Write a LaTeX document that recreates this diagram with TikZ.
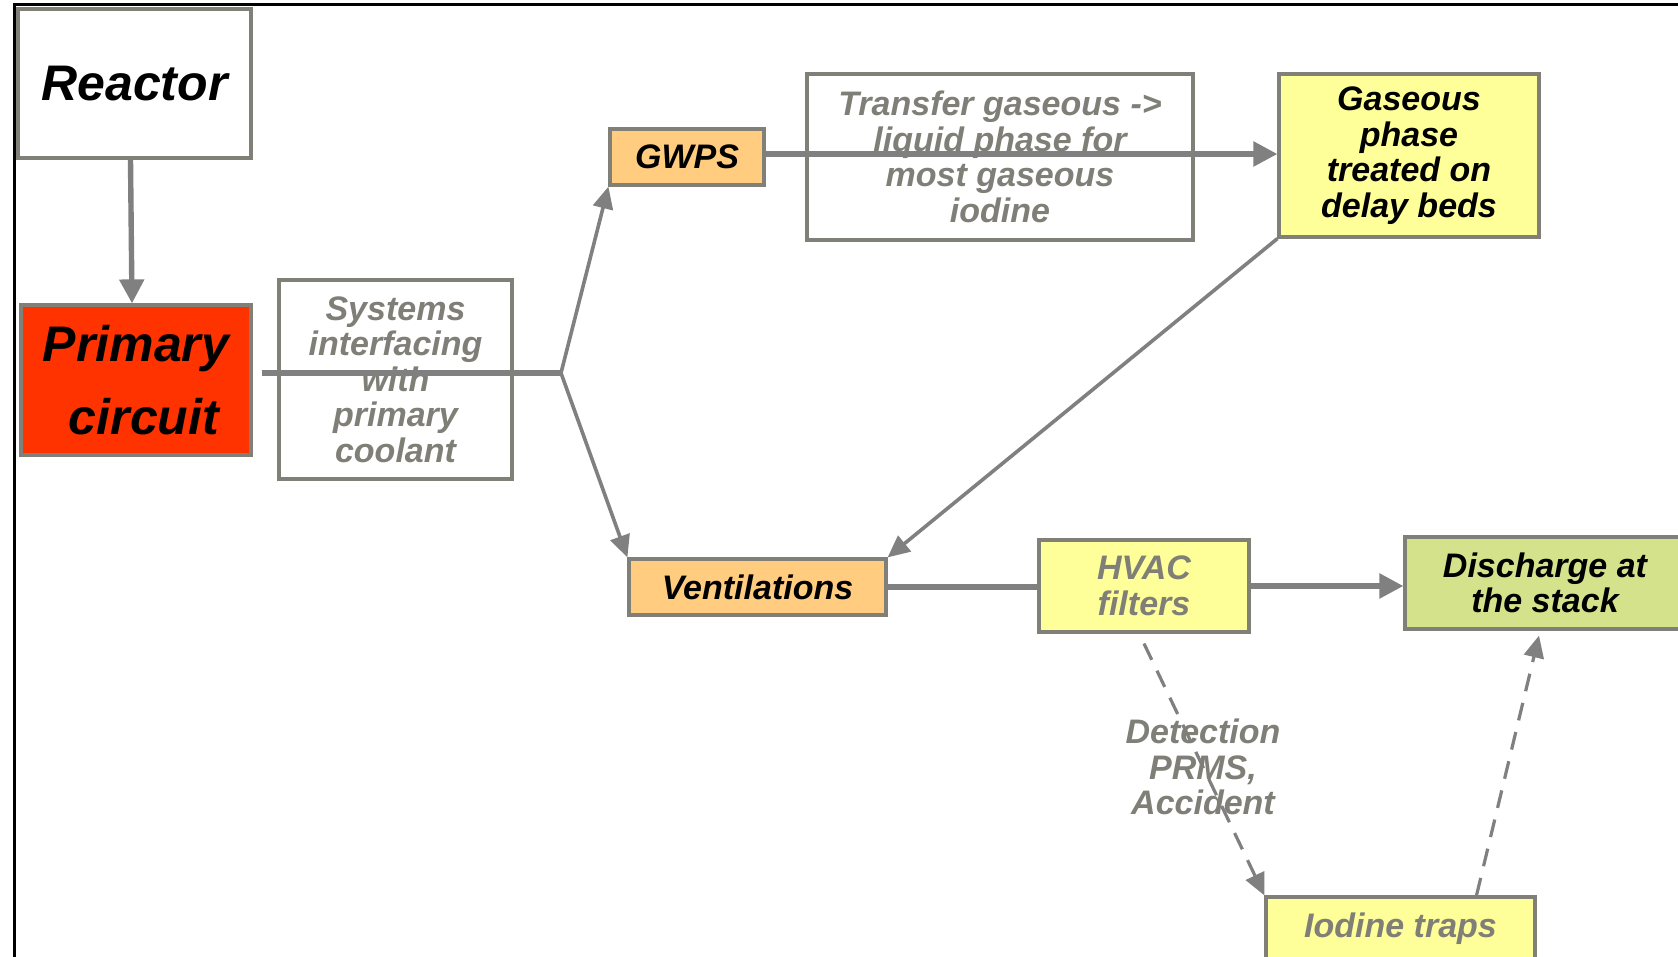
\documentclass[tikz,border=0pt]{standalone}
\usepackage{fontspec}
\setmainfont{Liberation Sans}
\usetikzlibrary{arrows.meta}
\definecolor{lgray}{HTML}{808080}
\definecolor{bgray}{HTML}{808078}
\definecolor{tgray}{HTML}{7F7F78}
\definecolor{pred}{HTML}{FF3300}
\definecolor{porange}{HTML}{FFCC80}
\definecolor{pyellow}{HTML}{FFFF99}
\definecolor{pgreen}{HTML}{D4E28C}
\begin{document}
\begin{tikzpicture}[x=0.5pt,y=-0.5pt,
  bx/.style={draw=bgray, line width=1.6pt, inner sep=0pt, align=center},
  smallfont/.style={font=\fontsize{17}{17.75}\selectfont\bfseries\itshape},
  bigfont/.style={font=\fontsize{25}{36.5}\selectfont\bfseries\itshape},
  blk/.style={text=black},
  gtxt/.style={text=tgray},
  arr/.style={draw=lgray, line width=2.7pt, -{Triangle[length=12pt,width=12pt]}},
  arrthin/.style={draw=lgray, line width=1.8pt, -{Triangle[length=11pt,width=10pt]}},
  ln/.style={draw=lgray, line width=2.7pt},
  dsh/.style={draw=lgray, line width=1.6pt, dash pattern=on 9pt off 6pt, -{Triangle[length=11pt,width=10pt]}}
]
\useasboundingbox (0,0) rectangle (1678,957);
\clip (0,0) rectangle (1678,957);
\fill[white] (0,0) rectangle (1678,957);
% frame
\draw[black, line width=1.5pt] (14,970) -- (14,5) -- (1690,5);

% nodes
\node[bx, fill=white, bigfont, blk, minimum width=116.5pt, minimum height=74.5pt] (reactor) at (134.5,83.5) {Reactor};
\node[bx, fill=pred, bigfont, blk, minimum width=115pt, minimum height=75pt] (primary) at (136,380) {Primary\\\hspace*{8pt}circuit};
\node[bx, fill=white, smallfont, gtxt, minimum width=116.5pt, minimum height=99.5pt] (systems) at (395.5,379.5) {Systems\\interfacing\\with\\primary\\coolant};
\node[bx, fill=porange, smallfont, blk, minimum width=77pt, minimum height=28pt] (gwps) at (687,157) {GWPS};
\node[bx, fill=white, smallfont, gtxt, minimum width=193pt, minimum height=83pt] (transfer) at (1000,157) {Transfer gaseous ->\\liquid phase for\\most gaseous\\iodine};
\node[bx, fill=pyellow, smallfont, blk, minimum width=130pt, minimum height=81.5pt] (gas) at (1409,155.5) {Gaseous\\phase\\treated on\\delay beds};
\node[bx, fill=porange, smallfont, blk, minimum width=128.5pt, minimum height=28pt] (vent) at (757.5,587) {Ventilations};
\node[bx, fill=pyellow, smallfont, gtxt, minimum width=105pt, minimum height=46pt] (hvac) at (1144,586) {HVAC\\filters};
\node[bx, fill=pgreen, smallfont, blk, minimum width=140pt, minimum height=46pt] (disch) at (1545,583) {Discharge at\\the stack};
\node[bx, fill=pyellow, smallfont, gtxt, minimum width=134.5pt, minimum height=31.5pt] (iodine) at (1400.5,928.5) {Iodine traps};

\coordinate (junction) at (561,373);

% connectors
\draw[arr] ([xshift=-2pt]reactor.south) -- ([xshift=-2pt]primary.north);
\draw[ln] ([xshift=4.5pt]primary.east |- junction) -- (junction);
\draw[arrthin] (junction) -- (gwps.south west);
\draw[arrthin] (junction) -- (vent.north west);
\draw[arr] ([yshift=1.5pt]gwps.east) -- ([yshift=1.5pt]gwps.east -| gas.west);
\draw[arrthin] (gas.south west) -- (vent.north east);
\draw[ln] (vent.east) -- (vent.east -| hvac.west);
\draw[arr] (hvac.east) -- (hvac.east -| disch.west);
\draw[dsh] ([yshift=-5pt]hvac.south) -- (iodine.north west)
  node[pos=0.49, smallfont, gtxt, align=center, inner sep=0pt] (detect) {Detection\\PRMS,\\Accident};
\draw[dsh] ([xshift=38pt]iodine.north) -- ([xshift=-3pt,yshift=-2.5pt]disch.south);
\end{tikzpicture}
\end{document}
